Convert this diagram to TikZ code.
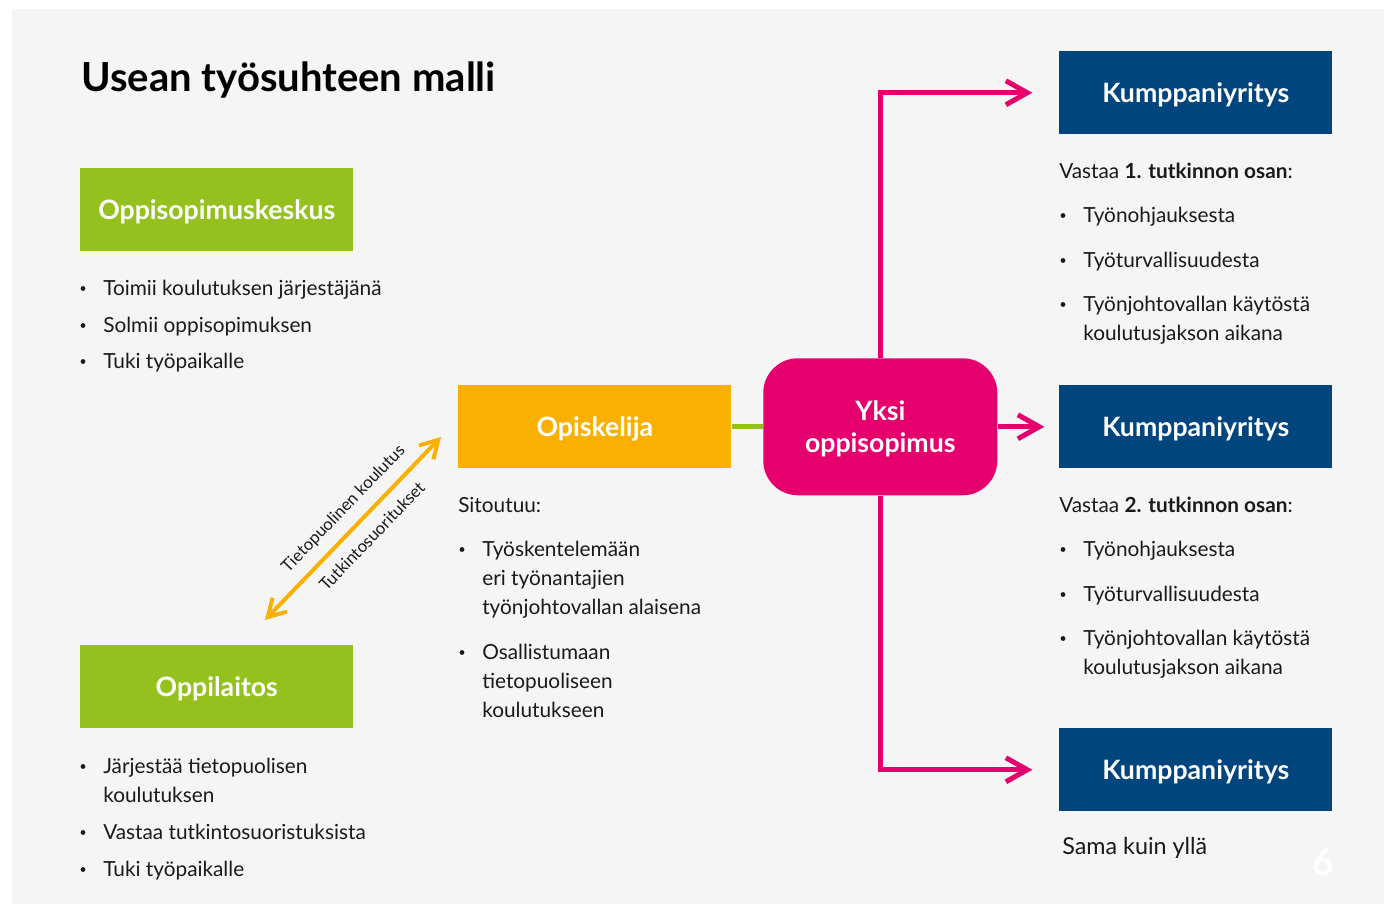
\documentclass[tikz,border=0pt]{standalone}
\usepackage{fontspec}
\setmainfont{Lato}
\usetikzlibrary{arrows.meta,positioning}

\definecolor{bgGray}{HTML}{F5F5F5}
\definecolor{kGreen}{HTML}{95C11F}
\definecolor{kOrange}{HTML}{F9B000}
\definecolor{kPink}{HTML}{E5006E}
\definecolor{kBlue}{HTML}{00457E}
\definecolor{kText}{HTML}{1A1A1A}

% lines of a text, baseline of the node = first line
\newcommand{\rows}[1]{\vtop{\halign{##\hfil\cr#1\crcr}}}
% bullet line: name, bullet x, baseline y, text
\newcommand{\blt}[4]{%
  \node[dot] (#1dot) at (#2,#3-6.5) {};
  \node[txt] (#1) at (#2+20,#3) {\rows{#4}};}

\begin{document}
\begin{tikzpicture}[x = 0.75pt, y = -0.75pt,
  box/.style={anchor=north west, inner sep=0pt, minimum width=204.75pt,
    minimum height=62.25pt, text=white, text height=15pt, text depth=0pt,
    font=\bfseries\fontsize{20}{24}\selectfont},
  txt/.style={anchor=base west, inner sep=0pt, text=kText,
    font=\fontsize{15.6}{22}\selectfont},
  dot/.style={circle, fill=kText, inner sep=0pt, minimum size=3.6pt},
  pinkline/.style={draw=kPink, line width=3.75pt,
    -{Straight Barb[length=16pt, width=18pt]}},
  orangeline/.style={draw=kOrange, line width=3pt,
    {Straight Barb[length=13pt, width=15pt]}-{Straight Barb[length=13pt, width=15pt]}},
  lbl/.style={font=\fontsize{12.6}{14}\selectfont, text=kText, inner sep=0pt}]
\useasboundingbox (0,0) rectangle (1386,904);
\fill[white] (0,0) rectangle (1386,904);
\fill[bgGray] (12,9) rectangle (1384,904);

\node[anchor=base west, inner sep=0pt, font=\bfseries\fontsize{30}{36}\selectfont] (title) at (81,91) {Usean työsuhteen malli};

% left column
\node[box, fill=kGreen] (keskus) at (80,168) {Oppisopimuskeskus};
\blt{k1}{83}{295}{Toimii koulutuksen järjestäjänä}
\blt{k2}{83}{332}{Solmii oppisopimuksen}
\blt{k3}{83}{368}{Tuki työpaikalle}

\node[box, fill=kGreen] (oppilaitos) at (80,645) {Oppilaitos};
\blt{o1}{83}{773}{Järjestää tietopuolisen\cr koulutuksen}
\blt{o2}{83}{839}{Vastaa tutkintosuoristuksista}
\blt{o3}{83}{876}{Tuki työpaikalle}

% student
\node[box, fill=kOrange] (opiskelija) at (458,385) {Opiskelija};
\node[txt] (sitoutuu) at (458,512) {Sitoutuu:};
\blt{s1}{462}{556}{Työskentelemään\cr eri työnantajien\cr työnjohtovallan alaisena}
\blt{s2}{462}{659}{Osallistumaan\cr tietopuoliseen\cr koulutukseen}

\coordinate (low) at (265,620);
\coordinate (high) at (441,437);
\draw[orangeline] (low) -- (high)
  node[lbl, pos=.53, sloped, above=8pt] (teoria) {Tietopuolinen koulutus}
  node[lbl, pos=.53, sloped, below=8pt] (suoritus) {Tutkintosuoritukset};

% the one contract
\node[anchor=north west, fill=kPink, rounded corners=26pt, inner sep=0pt,
  minimum width=175.5pt, minimum height=102.75pt, align=center, text=white,
  text depth=0pt, font=\bfseries\fontsize{20}{24}\selectfont] (yksi) at (763,358) {Yksi\\oppisopimus};
\draw[kGreen, line width=3.75pt] (opiskelija.east) -- (yksi.west);

% partner companies
\node[box, fill=kBlue] (firma1) at (1059,51) {Kumppaniyritys};
\node[box, fill=kBlue] (firma2) at (1059,385) {Kumppaniyritys};
\node[box, fill=kBlue] (firma3) at (1059,728) {Kumppaniyritys};

\draw[pinkline, shorten >=20pt] (yksi.north) |- (firma1.west);
\draw[pinkline, shorten >=11pt] (yksi.east) -- (firma2.west);
\draw[pinkline, shorten >=20pt] (yksi.south) |- (firma3.west);

\node[txt] (vastaa1) at (1059,178) {Vastaa \textbf{1. tutkinnon osan}:};
\blt{a1}{1063}{222}{Työnohjauksesta}
\blt{a2}{1063}{267}{Työturvallisuudesta}
\blt{a3}{1063}{311}{Työnjohtovallan käytöstä\cr koulutusjakson aikana}

\node[txt] (vastaa2) at (1059,512) {Vastaa \textbf{2. tutkinnon osan}:};
\blt{b1}{1063}{556}{Työnohjauksesta}
\blt{b2}{1063}{601}{Työturvallisuudesta}
\blt{b3}{1063}{645}{Työnjohtovallan käytöstä\cr koulutusjakson aikana}

\node[txt, font=\fontsize{17.5}{20}\selectfont] (sama) at (1062,854) {Sama kuin yllä};
\node[text=white, font=\bfseries\fontsize{28}{32}\selectfont, inner sep=0pt] (sivu) at (1323,862) {6};
\end{tikzpicture}
\end{document}
